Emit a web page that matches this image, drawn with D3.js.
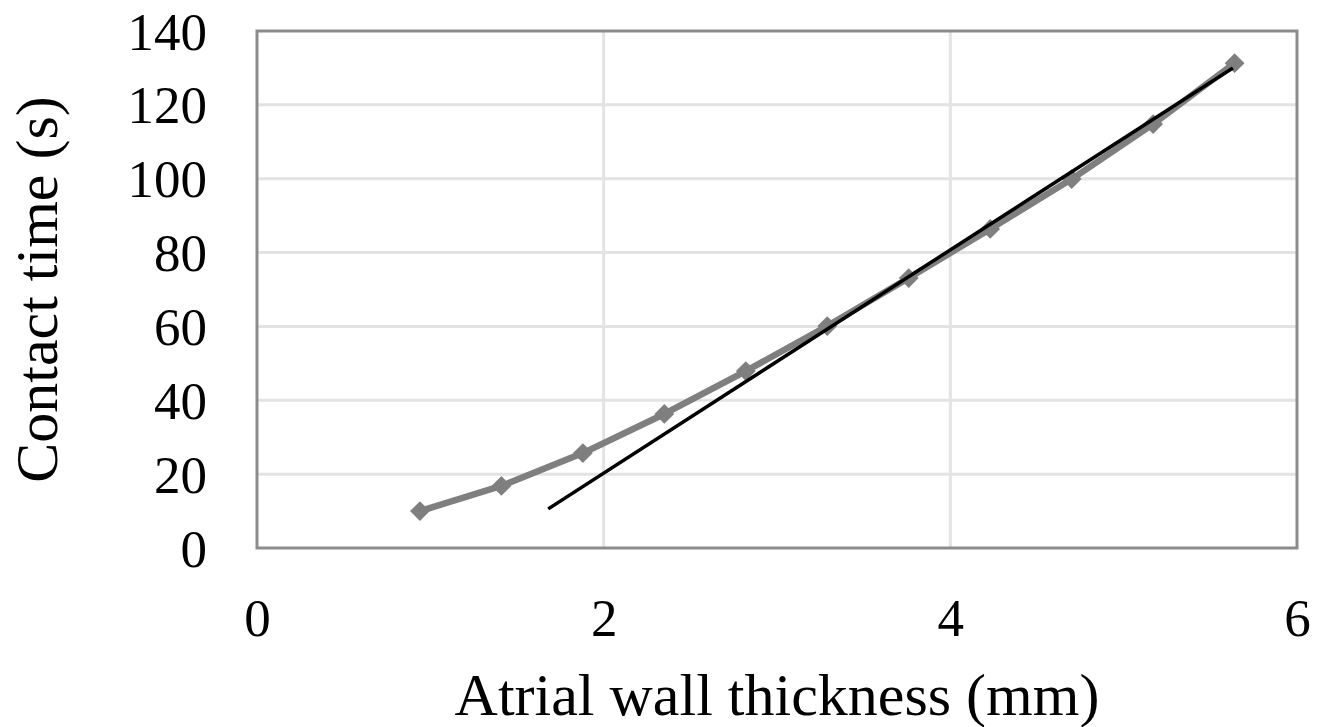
<!DOCTYPE html>
<html>
<head>
<meta charset="utf-8">
<script src="https://cdn.jsdelivr.net/npm/d3@7"></script>
<style>
  body { margin: 0; background: #fff; }
  text { font-family: "Liberation Serif", "Times New Roman", serif; fill: #000; }
</style>
</head>
<body>
<svg id="chart" width="1328" height="727"></svg>
<script>
// data
const thickness = [0.94, 1.41, 1.88, 2.35, 2.82, 3.29, 3.76, 4.23, 4.70, 5.17, 5.64];
const contactTime = [10.0, 16.8, 25.7, 36.3, 47.9, 60.1, 73.1, 86.4, 99.9, 114.8, 131.3];
const trendX = [1.68, 5.63];
const trendY = [10.6, 130.0];
const xTicks = [0, 2, 4, 6];
const yTicks = [0, 20, 40, 60, 80, 100, 120, 140];

const svg = d3.select('#chart');
const margin = { left: 257, right: 31, top: 31, bottom: 179 };
const W = 1328, H = 727;

const x = d3.scaleLinear().domain([0, 6]).range([margin.left, W - margin.right]);
const y = d3.scaleLinear().domain([0, 140]).range([H - margin.bottom, margin.top]);

// gridlines
svg.append('g')
    .selectAll('line')
    .data(yTicks.slice(1, -1))
    .enter()
    .append('line')
    .attr('x1', x(0)).attr('x2', x(6))
    .attr('y1', (d) => y(d)).attr('y2', (d) => y(d))
    .attr('stroke', '#e3e3e3')
    .attr('stroke-width', 3);

svg.append('g')
    .selectAll('line')
    .data(xTicks.slice(1, -1))
    .enter()
    .append('line')
    .attr('x1', (d) => x(d)).attr('x2', (d) => x(d))
    .attr('y1', y(0)).attr('y2', y(140))
    .attr('stroke', '#e3e3e3')
    .attr('stroke-width', 3);

// plot frame
svg.append('rect')
    .attr('x', x(0)).attr('y', y(140))
    .attr('width', x(6) - x(0)).attr('height', y(0) - y(140))
    .attr('fill', 'none')
    .attr('stroke', '#8c8c8c')
    .attr('stroke-width', 3);

// axes (labels only, Excel-style)
const xAxis = svg.append('g')
    .attr('transform', `translate(0,${y(0)})`)
    .call(d3.axisBottom(x).tickValues(xTicks).tickSize(0).tickFormat(d3.format('d')));
const yAxis = svg.append('g')
    .attr('transform', `translate(${x(0)},0)`)
    .call(d3.axisLeft(y).tickValues(yTicks).tickSize(0).tickPadding(50).tickFormat(d3.format('d')));
[xAxis, yAxis].forEach((a) => {
    a.select('.domain').remove();
    a.selectAll('text')
        .style('font-family', '"Liberation Serif", "Times New Roman", serif')
        .style('font-size', '53px')
        .attr('fill', '#000');
});
yAxis.selectAll('text').attr('dy', '0.34em');
xAxis.selectAll('text').attr('y', 88).attr('dy', 0);

// series line
const pts = thickness.map((t, i) => [t, contactTime[i]]);
svg.append('path')
    .datum(pts)
    .attr('fill', 'none')
    .attr('stroke', '#7f7f7f')
    .attr('stroke-width', 6.5)
    .attr('stroke-linejoin', 'round')
    .attr('d', d3.line().x((d) => x(d[0])).y((d) => y(d[1])));

// diamond markers
svg.append('g')
    .selectAll('path')
    .data(pts)
    .enter()
    .append('path')
    .attr('transform', (d) => `translate(${x(d[0])},${y(d[1])})`)
    .attr('d', d3.symbol().type(d3.symbolDiamond2).size(250))
    .attr('fill', '#7f7f7f');

// linear trendline
svg.append('path')
    .datum(trendX.map((t, i) => [t, trendY[i]]))
    .attr('fill', 'none')
    .attr('stroke', '#000')
    .attr('stroke-width', 3.5)
    .attr('d', d3.line().x((d) => x(d[0])).y((d) => y(d[1])));

// axis titles
svg.append('text')
    .attr('x', (x(0) + x(6)) / 2)
    .attr('y', 715)
    .attr('text-anchor', 'middle')
    .style('font-size', '60px')
    .text('Atrial wall thickness (mm)');

svg.append('text')
    .attr('transform', `translate(57,${(y(0) + y(140)) / 2}) rotate(-90)`)
    .attr('text-anchor', 'middle')
    .style('font-size', '60px')
    .text('Contact time (s)');
</script>
</body>
</html>
